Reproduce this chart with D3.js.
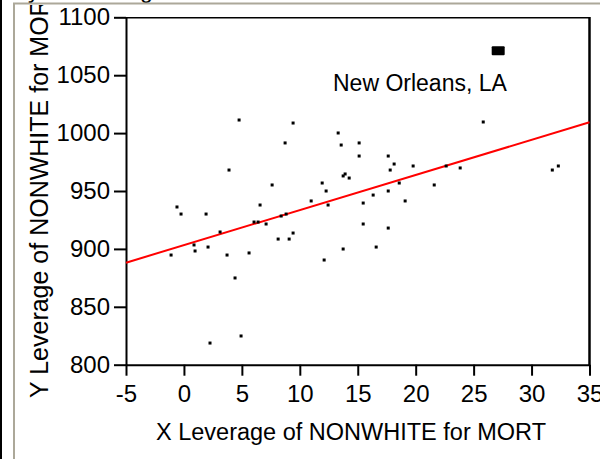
<!DOCTYPE html>
<html>
<head>
<meta charset="utf-8">
<script src="https://cdn.jsdelivr.net/npm/d3@7"></script>
<style>
  body { margin: 0; background: #fff; }
  svg text { font-family: "Liberation Sans", Arial, sans-serif; fill: #000; }
</style>
</head>
<body>
<svg id="chart" width="600" height="459"></svg>
<script>
// leverage plot data
var xLev = [4.76, 9.42, 8.73, 3.89, 7.61, -0.60, -0.25, 1.91, 6.57, 3.12,
            6.05, 6.40, 7.09, 8.39, 8.82, 9.42, 8.13, 9.08, 0.87, 0.96,
            2.08, -1.11, 3.72, 5.62, 4.41, 4.93, 2.25, 13.31, 13.57, 15.12,
            15.12, 17.63, 18.14, 17.80, 19.78, 22.63, 23.84, 25.83, 11.93, 12.27,
            10.98, 12.44, 13.74, 13.91, 14.26, 16.33, 15.47, 17.63, 18.58, 19.09,
            21.60, 15.47, 17.63, 13.74, 16.59, 12.10, 31.79, 32.31];
var yLev = [1011.3, 1008.7, 991.5, 968.1, 955.2, 936.2, 930.1, 930.1, 937.9, 914.6,
            923.2, 923.2, 921.5, 928.4, 930.1, 913.7, 908.5, 908.5, 903.4, 898.2,
            901.6, 894.7, 894.7, 896.5, 874.9, 824.8, 818.7, 1000.1, 989.7, 991.5,
            980.2, 980.2, 973.3, 968.1, 971.6, 971.6, 969.9, 1009.6, 956.9, 950.0,
            941.4, 937.9, 963.0, 964.7, 961.2, 946.5, 939.6, 950.0, 956.9, 941.4,
            955.2, 921.5, 918.0, 899.9, 901.6, 890.4, 968.1, 971.6];

// highlighted point
var outlierName = "New Orleans, LA";
var outlierX = 27.12;
var outlierY = 1071.2;

// fitted line ends
var fitX = [-5, 35];
var fitY = [888.1, 1009.3];

var xTicks = [-5, 0, 5, 10, 15, 20, 25, 30, 35];
var yTicks = [800, 850, 900, 950, 1000, 1050, 1100];

var svg = d3.select("#chart");

var x = d3.scaleLinear().domain([-5, 35]).range([126, 589.5]);
var y = d3.scaleLinear().domain([800, 1100]).range([364.7, 17.3]);

// window frame bits
svg.append("rect").attr("x", 0).attr("y", 0).attr("width", 2).attr("height", 459).attr("fill", "#000");
svg.append("text").attr("x", 28).attr("y", -2).style("font-size", "23px").text("y");
svg.append("text").attr("x", 140).attr("y", -2).style("font-size", "23px").text("g");

// y label, clipped at the panel top
svg.append("clipPath").attr("id", "panelclip")
  .append("rect").attr("x", 15).attr("y", 5).attr("width", 585).attr("height", 454);

svg.append("g").attr("clip-path", "url(#panelclip)")
  .append("text")
    .attr("transform", "translate(48,398)rotate(-90)")
    .style("font-size", "25px")
    .text("Y Leverage of NONWHITE for MORT");

svg.append("line").attr("x1", 13).attr("x2", 600).attr("y1", 3.5).attr("y2", 3.5)
  .attr("stroke", "#aca899").attr("stroke-width", 2);
svg.append("line").attr("x1", 14).attr("x2", 14).attr("y1", 3).attr("y2", 459)
  .attr("stroke", "#aca899").attr("stroke-width", 2);

// plot frame
svg.append("line").attr("x1", 126).attr("x2", 590).attr("y1", 17.8).attr("y2", 17.8)
  .attr("stroke", "#000").attr("stroke-width", 1.5);
svg.append("line").attr("x1", 589.5).attr("x2", 589.5).attr("y1", 17).attr("y2", 365)
  .attr("stroke", "#000").attr("stroke-width", 2.5);

var fmt = function(d) { return String(d); };
var yAxis = d3.axisLeft(y).tickValues(yTicks).tickFormat(fmt).tickSize(12).tickSizeOuter(0).tickPadding(4);
var xAxis = d3.axisBottom(x).tickValues(xTicks).tickFormat(fmt).tickSize(11).tickSizeOuter(0).tickPadding(9);

var gy = svg.append("g").attr("transform", "translate(126,0)").call(yAxis);
var gx = svg.append("g").attr("transform", "translate(0,364.7)").call(xAxis);

[gy, gx].forEach(function(g) {
  g.selectAll("path.domain").attr("stroke", "#000").attr("stroke-width", 2);
  g.selectAll(".tick line").attr("stroke", "#000").attr("stroke-width", 2);
  g.selectAll(".tick text")
    .style("font-family", "'Liberation Sans', Arial, sans-serif")
    .style("font-size", "24px")
    .attr("fill", "#000");
});

svg.append("text")
  .attr("x", 351).attr("y", 440)
  .attr("text-anchor", "middle")
  .style("font-size", "23.5px")
  .text("X Leverage of NONWHITE for MORT");

// fit line
svg.append("line")
  .attr("x1", x(fitX[0])).attr("y1", y(fitY[0]))
  .attr("x2", x(fitX[1])).attr("y2", y(fitY[1]))
  .attr("stroke", "#ff0000").attr("stroke-width", 2);

// points
svg.selectAll(".dot")
  .data(d3.range(xLev.length))
  .enter().append("rect")
    .attr("class", "dot")
    .attr("x", function(i) { return x(xLev[i]) - 1.5; })
    .attr("y", function(i) { return y(yLev[i]) - 1.5; })
    .attr("width", 3).attr("height", 3)
    .attr("fill", "#000");

svg.append("rect")
  .attr("x", x(outlierX) - 6.5).attr("y", y(outlierY) - 4.5)
  .attr("width", 13).attr("height", 9).attr("rx", 1)
  .attr("fill", "#000");

svg.append("text")
  .attr("x", 333).attr("y", 90.5)
  .style("font-size", "23px")
  .text(outlierName);
</script>
</body>
</html>
